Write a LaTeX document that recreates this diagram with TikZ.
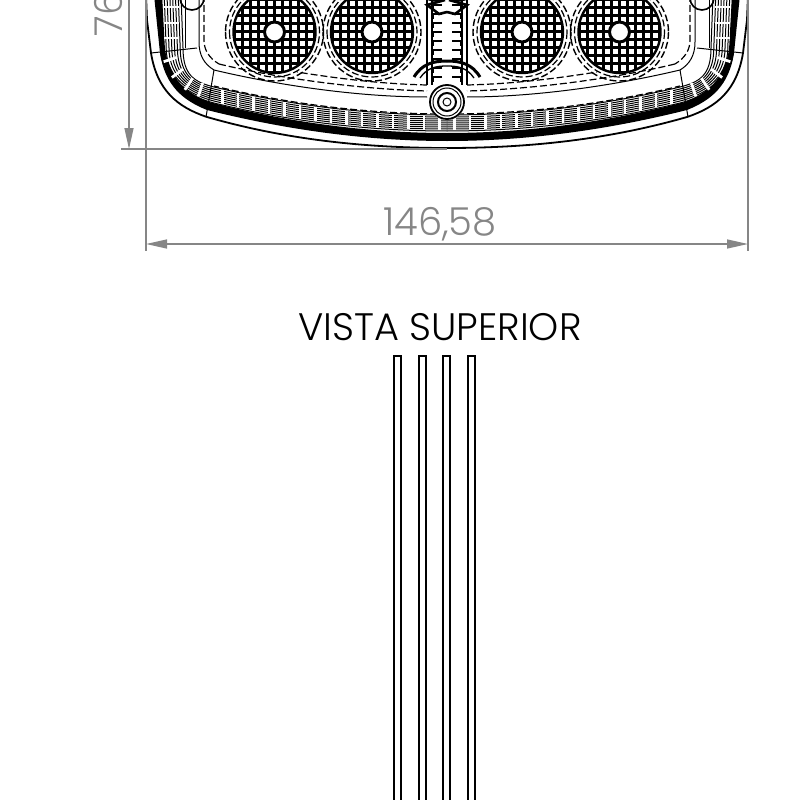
\documentclass[tikz,border=0pt]{standalone}
\usepackage{fontspec}
\setmainfont{Poppins Light}
\usetikzlibrary{arrows.meta}
\definecolor{dimgray}{HTML}{868686}
\tikzset{
  dimline/.style={draw=dimgray, line width=1.4pt},
  dimarrow/.style={dimline, {Triangle[length=21pt,width=9pt]}-{Triangle[length=21pt,width=9pt]}},
  dimtext/.style={text=dimgray, font=\fontsize{38.5}{38.5}\selectfont, inner sep=0pt},
  rimline/.style={line width=1pt},
  hidden/.style={line width=1.2pt, dash pattern=on 7pt off 3pt},
  toothmark/.style={white, line width=2.8pt},
  leadbar/.style={draw, line width=2pt}
}
\begin{document}
\begin{tikzpicture}[x=1pt,y=-1pt,
  declare function={rimy(\t)=115-28*(\t/233)^2;}]
\useasboundingbox (0,0) rectangle (800,800);
\clip (0,0) rectangle (800,800);

% lamp, right half and its mirror image
\foreach \side in {1,-1}{
\begin{scope}[xshift=447pt, xscale=\side]
  % outer body
  \draw[line width=1.8pt] (301,-5) -- (300,20) -- (296,53) .. controls (290,90) and (270,107) .. (240,117) .. controls (160,140) and (80,148) .. (0,148);
  % black band
  \fill (293,-5) -- (287,53) .. controls (282,85) and (265,100) .. (240,110) .. controls (160,130) and (80,141) .. (0,141)
     -- (0,133) .. controls (80,133) and (160,122) .. (238,102) .. controls (262,92) and (276,80) .. (282,50) -- (285,-5) -- cycle;
  % fine lines in the toothed strip
  \foreach \off in {0,2,...,16}{
    \draw[rimline] plot[domain=0:233, samples=30] (\x,{rimy(\x)+\off});
    \draw[rimline] (233,87+\off) .. controls (253,82+\off) and (264+\off*1.4,75+\off*.5) .. (264+\off*1.4,48);
    \draw[rimline] (264+\off*1.4,48) -- (266+\off*1.4,-5);
  }
  \draw[hidden] plot[domain=0:233, samples=30] (\x,{rimy(\x)-1});
  % teeth
  \foreach \t in {7.5,23,...,233}{
    \draw[toothmark] (\t,{rimy(\t)+1}) -- (\t,{rimy(\t)+15});
  }
  \foreach \a in {18,37,56,72}{
    \draw[toothmark] (232,45) ++(\a:40) -- ++(\a:14);
  }
  \foreach \t in {7,23,38}{
    \draw[toothmark] (268,\t) -- (283,\t);
  }
  % inner frame
  \draw[line width=1pt] (248,-5) -- (248,42) .. controls (248,55) and (243,64) .. (233,70) .. controls (170,85) and (90,97) .. (20,97);
  \draw[hidden] (243,-5) -- (243,40) .. controls (243,50) and (238,58) .. (228,64);
  \draw[hidden] (228,64) .. controls (170,78) and (90,89) .. (20,91);
  \draw[hidden] (20,85) .. controls (60,84) and (100,80) .. (150,72);
  \draw[line width=1pt] (233,70) -- (241,117);
  \draw[line width=1pt] (250,48) -- (296,53);
  \draw[line width=1pt] (262,-5) -- (262,48);
  % corner screw
  \draw[line width=1.6pt] (255,-2) circle (12);
  % LED
  \foreach \ledx in {75,172.5}{
    \begin{scope}
      \clip (\ledx,32) circle (41);
      \foreach \k in {-5,...,5}{
        \draw[line width=3pt] (\ledx+\k*8,-15) -- (\ledx+\k*8,80);
        \draw[line width=3pt] (\ledx-45,32+\k*8) -- (\ledx+45,32+\k*8);
      }
    \end{scope}
    \draw[line width=2.4pt] (\ledx,32) circle (41);
    \draw[hidden, line width=1.2pt] (\ledx,32) circle (45);
    \draw[hidden, line width=1.4pt] (\ledx,32) circle (49);
    \fill[white] (\ledx,32) circle (11);
    \draw[line width=3pt] (\ledx,32) circle (10);
    \fill[white] (\ledx,32) circle (6.5);
  }
  % centre column
  \draw[line width=1.3pt] (15,-5) -- (15,85);
  \draw[line width=1.3pt] (20,-5) -- (20,85);
  \foreach \k in {5,14,...,77}{
    \draw[line width=1.6pt] (5,\k) -- (14,\k) -- (14,\k+5);
  }
  \draw[line width=3pt] (0,61) .. controls (14,61) and (25,64) .. (33,77);
  \draw[line width=1.3pt] (0,66) .. controls (12,66) and (20,68) .. (27,78);
  \draw[line width=2.6pt] (2,0) -- (20,5) -- (8,14) -- (0,12);
  \draw[line width=1.6pt] (0,-2) .. controls (10,4) and (20,0) .. (27,-5);
\end{scope}
}
% screw
\fill[white] (447,102) circle (18);
\draw[line width=1.8pt] (447,102) circle (17);
\draw[line width=1pt] (447,102) circle (14);
\draw[line width=2pt] (447,102) circle (9);
\draw[line width=1pt] (447,102) circle (4);

% dimensions
\coordinate (extleftbot) at (146,251);
\coordinate (extlefttop) at (146,-5);
\coordinate (extrightbot) at (748,251);
\coordinate (extrighttop) at (748,-5);
\coordinate (extlow) at (121,149);
\coordinate (extlowend) at (447,149);
\coordinate (dimtop) at (129,-30);
\coordinate (dimlow) at (129,149);
\coordinate (dimleft) at (146,244);
\coordinate (dimright) at (748,244);
\draw[dimline] (extlefttop) -- (extleftbot);
\draw[dimline] (extrighttop) -- (extrightbot);
\draw[dimline] (extlow) -- (extlowend);
\draw[dimarrow] (dimtop) -- (dimlow);
\draw[dimarrow] (dimleft) -- (dimright);
\node[dimtext] (width) at (440,224) {146,58};
\node[dimtext, rotate=90] (height) at (108,14) {76};

\node[inner sep=0pt, font=\fontsize{38.3}{38.3}\selectfont] (title) at (440,327) {VISTA SUPERIOR};

% leads
\foreach \barx in {397.5,422,446.5,471.5}{
  \draw[leadbar] (\barx-3.5,810) -- (\barx-3.5,356) -- (\barx+3.5,356) -- (\barx+3.5,810);
}
\end{tikzpicture}
\end{document}
